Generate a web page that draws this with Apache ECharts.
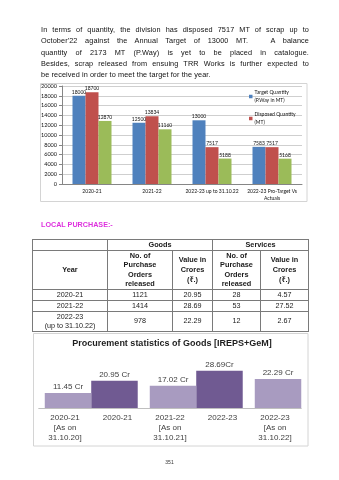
<!DOCTYPE html>
<html><head><meta charset="utf-8">
<script src="https://cdn.jsdelivr.net/npm/echarts@6/dist/echarts.min.js"></script>
<style>
html,body{margin:0;padding:0;background:#fff;}
body{width:339px;height:480px;position:relative;overflow:hidden;font-family:'Liberation Sans','Noto Sans','DejaVu Sans',sans-serif;color:#1e1e1e;}
.gl{will-change:transform;-webkit-font-smoothing:antialiased;}
#chart{position:absolute;left:0;top:0;width:339px;height:480px;}
#para{position:absolute;left:41px;top:23.5px;width:268px;font-size:7.3px;line-height:11.25px;letter-spacing:0.1px;color:#111;}
#para div{text-align:justify;text-align-last:justify;}
#para div.last{text-align-last:left;}
#lp{position:absolute;left:40.5px;top:220px;font-size:7.2px;line-height:10px;font-weight:bold;color:#de30de;}
#tbl{position:absolute;left:32px;top:239px;border-collapse:collapse;table-layout:fixed;width:276px;font-size:7.2px;text-align:center;color:#1a1a1a;}
#tbl td{border:1px solid #7a7a7a;padding:0;vertical-align:middle;line-height:9.6px;overflow:hidden;}
#tbl .h{font-weight:bold;font-size:7.3px;}
#pg{position:absolute;left:0;width:339px;top:459px;text-align:center;font-size:5px;color:#333;}
</style></head>
<body>
<div id="para" class="gl">
<div>In terms of quantity, the division has disposed 7517 MT of scrap up to</div>
<div>October'22 against the Annual Target of 13000 MT.&nbsp;&nbsp; A balance</div>
<div>quantity of 2173 MT (P.Way) is yet to be placed in catalogue.</div>
<div>Besides, scrap released from ensuing TRR Works is further expected to</div>
<div class="last">be received in order to meet the target for the year.</div>
</div>
<div id="lp" class="gl">LOCAL PURCHASE:-</div>
<table id="tbl" class="gl">
<colgroup><col style="width:75px"><col style="width:65px"><col style="width:40px"><col style="width:48px"><col style="width:48px"></colgroup>
<tr style="height:10px"><td></td><td class="h" colspan="2">Goods</td><td class="h" colspan="2">Services</td></tr>
<tr style="height:39px"><td class="h">Year</td><td class="h">No. of<br>Purchase<br>Orders<br>released</td><td class="h">Value in<br>Crores<br>(₹.)</td><td class="h">No. of<br>Purchase<br>Orders<br>released</td><td class="h">Value in<br>Crores<br>(₹.)</td></tr>
<tr style="height:10px"><td>2020-21</td><td>1121</td><td>20.95</td><td>28</td><td>4.57</td></tr>
<tr style="height:11px"><td>2021-22</td><td>1414</td><td>28.69</td><td>53</td><td>27.52</td></tr>
<tr style="height:19px"><td>2022-23<br>(up to 31.10.22)</td><td>978</td><td>22.29</td><td>12</td><td>2.67</td></tr>
</table>
<div id="pg" class="gl">351</div>
<div id="chart"></div>
<script>
// ---- Chart 1: scrap disposal ----
var scrapCategories = ['2020-21', '2021-22', '2022-23 up to 31.10.22', '2022-23 Pro-Target Vs\nActuals'];
var targetQty = [18000, 12500, 13000, 7583];
var disposedQty = [18700, 13834, 7517, 7517];
var thirdQty = [12870, 11160, 5188, 5168];
var scrapSeriesNames = ['Target Quantity\n(P.Way in MT)', 'Disposed Quantity\n(MT)', 'Third Quantity'];
var scrapYTicks = {min: 0, max: 20000, interval: 2000};

// ---- Chart 2: procurement statistics ----
var procCategories = ['2020-21\n[As on\n31.10.20]', '2020-21', '2021-22\n[As on\n31.10.21]', '2022-23', '2022-23\n[As on\n31.10.22]'];
var procValues = [11.45, 20.95, 17.02, 28.69, 22.29];
var procLabels = ['11.45 Cr', '20.95 Cr', '17.02 Cr', '28.69Cr', '22.29 Cr'];
var procIsPartYear = [true, false, true, false, true];

var FONT = "'Liberation Sans','Noto Sans',sans-serif";
var CFONT = "Lato,'Liberation Sans',sans-serif";

var darkData = procValues.map(function (v, i) { return procIsPartYear[i] ? '-' : v; });
var lightData = procValues.map(function (v, i) { return procIsPartYear[i] ? v : '-'; });

function scrapSeries(name, data, color) {
  return {
    type: 'bar', name: name, data: data, xAxisIndex: 0, yAxisIndex: 0,
    barWidth: 13, barGap: '0%',
    itemStyle: {color: color},
    label: {show: true, position: 'top', distance: 1, fontSize: 5, fontFamily: CFONT, color: '#111'}
  };
}
function procSeries(name, data, color) {
  return {
    type: 'bar', name: name, data: data, xAxisIndex: 1, yAxisIndex: 1,
    barWidth: 46.5, barGap: '-87%',
    itemStyle: {color: color},
    label: {show: true, position: 'top', distance: 2, fontSize: 8, fontFamily: FONT, color: '#404040',
      formatter: function (p) { return procLabels[p.dataIndex]; }}
  };
}

var chart = echarts.init(document.getElementById('chart'), null, {renderer: 'canvas'});
chart.setOption({
  animation: false,
  graphic: [
    {type: 'rect', shape: {x: 40.5, y: 83.5, width: 266.5, height: 118}, style: {fill: 'none', stroke: '#d4d4d4', lineWidth: 1}, z: -1},
    {type: 'rect', shape: {x: 33.5, y: 333.5, width: 274.5, height: 112.5}, style: {fill: 'none', stroke: '#d4d4d4', lineWidth: 1}, z: -1}
  ],
  title: {
    text: 'Procurement statistics of Goods [IREPS+GeM]',
    left: 172, top: 339, textAlign: 'center', padding: 0,
    textStyle: {fontSize: 9, fontWeight: 'bold', fontFamily: FONT, color: '#1e1e1e'}
  },
  legend: {
    data: [scrapSeriesNames[0], scrapSeriesNames[1]],
    orient: 'vertical', left: 249, top: 89, padding: 0,
    itemWidth: 3.5, itemHeight: 3.5, itemGap: 7, icon: 'rect',
    textStyle: {fontSize: 5, lineHeight: 7.5, fontFamily: CFONT, color: '#111', padding: [0, 0, 0, -3]}
  },
  grid: [
    {left: 62, top: 86, width: 240, height: 98},
    {left: 38.75, top: 356, width: 262.5, height: 52}
  ],
  xAxis: [
    {type: 'category', gridIndex: 0, data: scrapCategories,
      axisLine: {lineStyle: {color: '#868686'}}, axisTick: {length: 3, lineStyle: {color: '#868686'}},
      axisLabel: {interval: 0, fontSize: 5, lineHeight: 7, margin: 4, fontFamily: CFONT, color: '#111'}},
    {type: 'category', gridIndex: 1, data: procCategories,
      axisLine: {lineStyle: {color: '#bfbfbf'}}, axisTick: {show: false},
      axisLabel: {interval: 0, fontSize: 8, lineHeight: 10, margin: 5, fontFamily: FONT, color: '#404040'}}
  ],
  yAxis: [
    {type: 'value', gridIndex: 0, min: scrapYTicks.min, max: scrapYTicks.max, interval: scrapYTicks.interval,
      axisLine: {show: true, lineStyle: {color: '#868686'}}, axisTick: {show: true, length: 3, lineStyle: {color: '#868686'}},
      splitLine: {lineStyle: {color: '#cfcfcf'}},
      axisLabel: {fontSize: 5.5, margin: 5, fontFamily: CFONT, color: '#111', formatter: function (v) { return String(v); }}},
    {type: 'value', gridIndex: 1, min: 0, max: 40, show: false, splitLine: {show: false}}
  ],
  series: [
    scrapSeries(scrapSeriesNames[0], targetQty, '#4f81bd'),
    scrapSeries(scrapSeriesNames[1], disposedQty, '#c0504d'),
    scrapSeries(scrapSeriesNames[2], thirdQty, '#9bbb59'),
    procSeries('Full year', darkData, '#705a92'),
    procSeries('Up to 31st Oct', lightData, '#a89bc0')
  ]
});
</script>
</body></html>
